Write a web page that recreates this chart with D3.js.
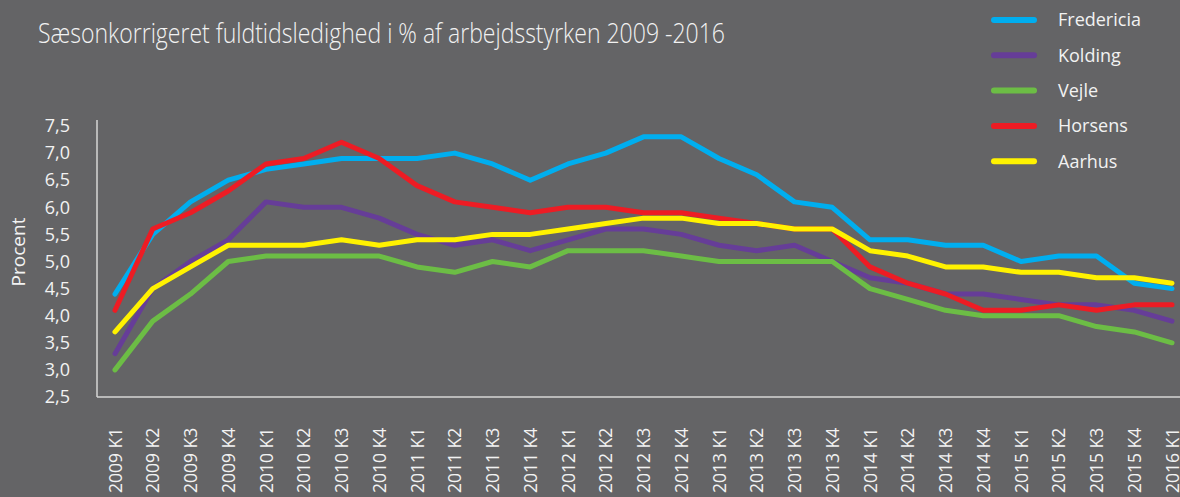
<!DOCTYPE html>
<html>
<head>
<meta charset="utf-8">
<script src="https://cdn.jsdelivr.net/npm/d3@7"></script>
<style>
  html, body { margin: 0; padding: 0; background: #646466; }
  svg { display: block; }
</style>
</head>
<body>
<svg id="chart" width="1180" height="497"></svg>
<script>
// quarters on the x axis
const quarters = [
  '2009 K1', '2009 K2', '2009 K3', '2009 K4',
  '2010 K1', '2010 K2', '2010 K3', '2010 K4',
  '2011 K1', '2011 K2', '2011 K3', '2011 K4',
  '2012 K1', '2012 K2', '2012 K3', '2012 K4',
  '2013 K1', '2013 K2', '2013 K3', '2013 K4',
  '2014 K1', '2014 K2', '2014 K3', '2014 K4',
  '2015 K1', '2015 K2', '2015 K3', '2015 K4',
  '2016 K1'
];

const yTicks = [2.5, 3.0, 3.5, 4.0, 4.5, 5.0, 5.5, 6.0, 6.5, 7.0, 7.5];

// unemployment in %
const fredericia = [4.4, 5.5, 6.1, 6.5, 6.7, 6.8, 6.9, 6.9, 6.9, 7.0, 6.8, 6.5, 6.8, 7.0, 7.3, 7.3, 6.9, 6.6, 6.1, 6.0, 5.4, 5.4, 5.3, 5.3, 5.0, 5.1, 5.1, 4.6, 4.5];
const kolding    = [3.3, 4.5, 5.0, 5.4, 6.1, 6.0, 6.0, 5.8, 5.5, 5.3, 5.4, 5.2, 5.4, 5.6, 5.6, 5.5, 5.3, 5.2, 5.3, 5.0, 4.7, 4.6, 4.4, 4.4, 4.3, 4.2, 4.2, 4.1, 3.9];
const vejle      = [3.0, 3.9, 4.4, 5.0, 5.1, 5.1, 5.1, 5.1, 4.9, 4.8, 5.0, 4.9, 5.2, 5.2, 5.2, 5.1, 5.0, 5.0, 5.0, 5.0, 4.5, 4.3, 4.1, 4.0, 4.0, 4.0, 3.8, 3.7, 3.5];
const horsens    = [4.1, 5.6, 5.9, 6.3, 6.8, 6.9, 7.2, 6.9, 6.4, 6.1, 6.0, 5.9, 6.0, 6.0, 5.9, 5.9, 5.8, 5.7, 5.6, 5.6, 4.9, 4.6, 4.4, 4.1, 4.1, 4.2, 4.1, 4.2, 4.2];
const aarhus     = [3.7, 4.5, 4.9, 5.3, 5.3, 5.3, 5.4, 5.3, 5.4, 5.4, 5.5, 5.5, 5.6, 5.7, 5.8, 5.8, 5.7, 5.7, 5.6, 5.6, 5.2, 5.1, 4.9, 4.9, 4.8, 4.8, 4.7, 4.7, 4.6];

const seriesNames = ['Fredericia', 'Kolding', 'Vejle', 'Horsens', 'Aarhus'];
const seriesColors = ['#00aeef', '#663d98', '#6cbd45', '#ed1c24', '#fff200'];
const seriesData = [fredericia, kolding, vejle, horsens, aarhus];

const svg = d3.select('#chart');
const textColor = '#f2f2f2';
const axisColor = '#d6d6d6';

const x = d3.scalePoint().domain(quarters).range([115, 1172]);
const y = d3.scaleLinear().domain([2.5, 7.5]).range([397, 126]);

// subtitle (condensed light look)
svg.append('text')
  .attr('x', 38)
  .attr('y', 43)
  .attr('fill', textColor)
  .style('font-family', '"Open Sans", sans-serif')
  .style('font-weight', 300)
  .style('font-size', '28px')
  .attr('textLength', 687)
  .attr('lengthAdjust', 'spacingAndGlyphs')
  .text('Sæsonkorrigeret fuldtidsledighed i % af arbejdsstyrken 2009 -2016');

// y axis
const yAxis = svg.append('g')
  .attr('transform', 'translate(97,0)')
  .call(d3.axisLeft(y).tickValues(yTicks).tickSize(0).tickPadding(27)
    .tickFormat(d => d3.format('.1f')(d).replace('.', ',')));
yAxis.select('.domain').remove();
yAxis.selectAll('text')
  .attr('fill', textColor)
  .style('font-family', '"Open Sans", sans-serif')
  .style('font-size', '18px');

svg.append('line')
  .attr('x1', 97).attr('x2', 97)
  .attr('y1', 120).attr('y2', 397)
  .attr('stroke', axisColor).attr('stroke-width', 1.5);

// x axis
const xAxis = svg.append('g')
  .attr('transform', 'translate(0,397)')
  .call(d3.axisBottom(x).tickSize(0));
xAxis.select('.domain').remove();
xAxis.selectAll('text')
  .attr('transform', 'rotate(-90)')
  .attr('x', -96)
  .attr('y', 0)
  .attr('dy', '0.35em')
  .style('text-anchor', 'start')
  .attr('fill', textColor)
  .style('font-family', '"Open Sans", sans-serif')
  .style('font-size', '17.5px');

svg.append('line')
  .attr('x1', 97).attr('x2', 1180)
  .attr('y1', 397).attr('y2', 397)
  .attr('stroke', axisColor).attr('stroke-width', 1.5);

svg.append('text')
  .attr('transform', 'translate(18,252) rotate(-90)')
  .attr('text-anchor', 'middle')
  .attr('dy', '0.35em')
  .attr('fill', textColor)
  .style('font-family', '"Open Sans", sans-serif')
  .style('font-size', '19px')
  .text('Procent');

// lines
const line = d3.line()
  .x((d, i) => x(quarters[i]))
  .y(d => y(d));

seriesData.forEach((values, k) => {
  svg.append('path')
    .datum(values)
    .attr('fill', 'none')
    .attr('stroke', seriesColors[k])
    .attr('stroke-width', 5)
    .attr('stroke-linejoin', 'round')
    .attr('stroke-linecap', 'round')
    .attr('d', line);
});

// legend
const legend = svg.append('g');
seriesNames.forEach((name, k) => {
  const ly = 20 + k * 35.3;
  legend.append('line')
    .attr('x1', 994).attr('x2', 1034)
    .attr('y1', ly).attr('y2', ly)
    .attr('stroke', seriesColors[k])
    .attr('stroke-width', 6)
    .attr('stroke-linecap', 'round');
  legend.append('text')
    .attr('x', 1058)
    .attr('y', ly)
    .attr('dy', '0.35em')
    .attr('fill', textColor)
    .style('font-family', '"Open Sans", sans-serif')
    .style('font-size', '18px')
    .text(name);
});
</script>
</body>
</html>
